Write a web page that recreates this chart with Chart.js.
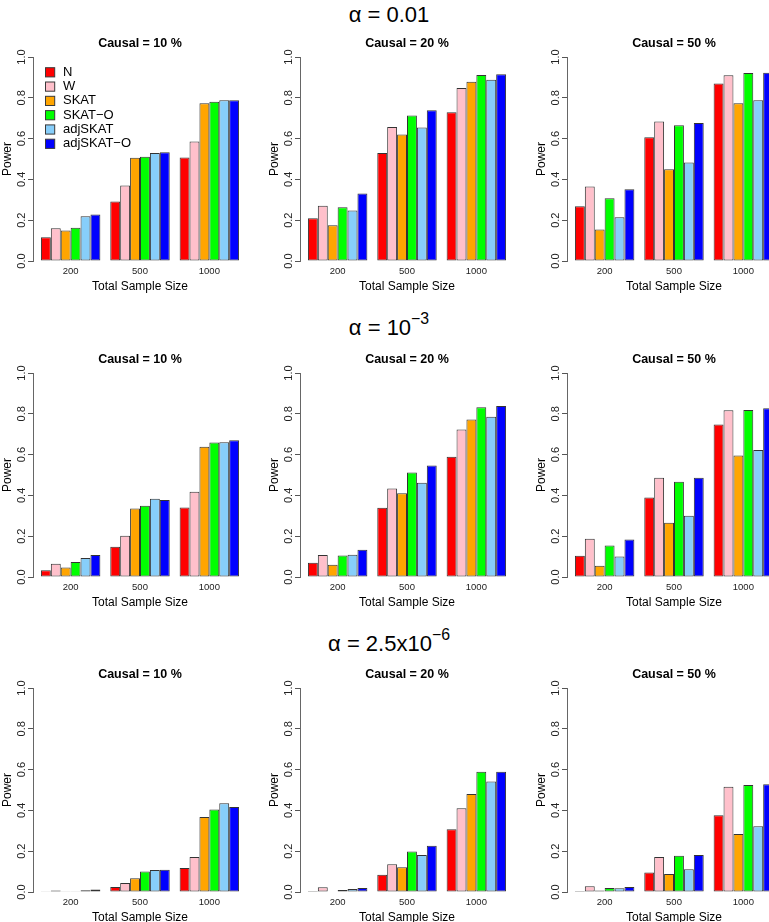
<!DOCTYPE html>
<html>
<head>
<meta charset="utf-8">
<script src="https://cdn.jsdelivr.net/npm/chart.js@4.4.1/dist/chart.umd.min.js"></script>
<style>
  html, body { margin: 0; padding: 0; background: #fff; overflow: hidden; width: 769px; height: 922px; }
  body { position: relative; }
  canvas { position: absolute; }
  .alpha { position: absolute; left: 0; width: 778px; text-align: center; font-family: "Liberation Sans", Arial, sans-serif;
           font-size: 22px; line-height: 20px; color: #000; white-space: nowrap; }
  .alpha sup { font-size: 72%; line-height: 0; position: relative; top: -0.2em; }
</style>
</head>
<body>

<script>
// methods and colours, same order as the bars in each group
const methods = ['N', 'W', 'SKAT', 'SKAT\u2212O', 'adjSKAT', 'adjSKAT\u2212O']
const colors = ['#ff0000', '#ffc0cb', '#ffa500', '#00ff00', '#87cefa', '#0000ff']
const sizes = ['200', '500', '1000']
const causal = ['10', '20', '50']
const alphaTitles = ['\u03b1 = 0.01', '\u03b1 = 10<sup>\u22123</sup>', '\u03b1 = 2.5x10<sup>\u22126</sup>']

// power values, one row per method, columns are the sample sizes 200 / 500 / 1000
// alpha = 0.01
const a1_c10 = [[0.116, 0.292, 0.507], [0.160, 0.370, 0.586], [0.150, 0.506, 0.773], [0.163, 0.511, 0.781], [0.219, 0.530, 0.788], [0.228, 0.533, 0.788]]
const a1_c20 = [[0.209, 0.529, 0.729], [0.271, 0.657, 0.848], [0.175, 0.620, 0.879], [0.264, 0.713, 0.912], [0.248, 0.654, 0.889], [0.331, 0.739, 0.915]]
const a1_c50 = [[0.268, 0.607, 0.870], [0.365, 0.684, 0.910], [0.155, 0.450, 0.773], [0.307, 0.666, 0.922], [0.214, 0.483, 0.788], [0.352, 0.677, 0.923]]
// alpha = 1e-3
const a2_c10 = [[0.033, 0.148, 0.341], [0.065, 0.202, 0.418], [0.047, 0.336, 0.638], [0.073, 0.349, 0.659], [0.093, 0.383, 0.661], [0.108, 0.378, 0.670]]
const a2_c20 = [[0.070, 0.339, 0.589], [0.108, 0.434, 0.723], [0.060, 0.411, 0.772], [0.106, 0.512, 0.832], [0.109, 0.462, 0.785], [0.134, 0.547, 0.838]]
const a2_c50 = [[0.104, 0.390, 0.747], [0.188, 0.486, 0.817], [0.055, 0.266, 0.595], [0.155, 0.467, 0.819], [0.100, 0.300, 0.623], [0.184, 0.486, 0.827]]
// alpha = 2.5e-6
const a3_c10 = [[0.001, 0.025, 0.118], [0.007, 0.044, 0.172], [0.001, 0.067, 0.368], [0.004, 0.100, 0.405], [0.008, 0.108, 0.435], [0.012, 0.109, 0.417]]
const a3_c20 = [[0.005, 0.085, 0.307], [0.023, 0.136, 0.410], [0.003, 0.121, 0.480], [0.010, 0.199, 0.590], [0.015, 0.181, 0.542], [0.020, 0.227, 0.590]]
const a3_c50 = [[0.005, 0.095, 0.376], [0.028, 0.172, 0.516], [0.007, 0.088, 0.284], [0.020, 0.178, 0.524], [0.018, 0.111, 0.322], [0.025, 0.181, 0.528]]

const panels = [[a1_c10, a1_c20, a1_c50], [a2_c10, a2_c20, a2_c50], [a3_c10, a3_c20, a3_c50]]

// layout of the 3x3 grid (left edge of plot region, top of plot region)
const plotLefts = [33, 300, 567]
const plotTops = [57, 373, 688]
const titleTops = [5, 318, 634]
const PLOT_W = 210, PLOT_H = 204
const FONT = '"Liberation Sans", Arial, sans-serif'

// barplot style x positions: groups of 6 unit bars with one unit gap
function groupCenter(j){
    return 4 + 7 * j
}

// rotated y tick labels like R's axis()
const yTickLabels = {
    id: 'yTickLabels',
    afterDraw(chart){
        let sc = chart.scales.y
        let ctx = chart.ctx
        ctx.save()
        ctx.font = '11px ' + FONT
        ctx.fillStyle = '#222'
        ctx.textAlign = 'center'
        ctx.textBaseline = 'middle'
        sc.ticks.forEach(t => {
            ctx.save()
            ctx.translate(chart.chartArea.left - 11, sc.getPixelForValue(t.value))
            ctx.rotate(-Math.PI / 2)
            ctx.fillText(t.value.toFixed(1), 0, 0)
            ctx.restore()
        })
        ctx.restore()
    }
}

// legend inside the first panel
const boxLegend = {
    id: 'boxLegend',
    afterDraw(chart, args, opts){
        if (!opts.show) return
        let ctx = chart.ctx
        let left = chart.chartArea.left, top = chart.chartArea.top
        ctx.save()
        ctx.font = '13px ' + FONT
        ctx.textBaseline = 'middle'
        ctx.textAlign = 'left'
        chart.data.datasets.forEach((ds, i) => {
            let y = top + 15.3 + i * 14.3
            ctx.fillStyle = ds.backgroundColor
            ctx.fillRect(left + 12.5, y - 4.6, 9.2, 9.2)
            ctx.strokeStyle = '#3a3a3a'
            ctx.lineWidth = 1
            ctx.strokeRect(left + 12.5, y - 4.6, 9.2, 9.2)
            ctx.fillStyle = '#000'
            ctx.fillText(ds.label, left + 30, y)
        })
        ctx.restore()
    }
}

function renderPanel(r, c){
    let vals = panels[r][c]
    let canvas = document.createElement('canvas')
    canvas.width = 40 + PLOT_W + 4
    canvas.height = 30 + PLOT_H + 36
    canvas.style.left = (plotLefts[c] - 40) + 'px'
    canvas.style.top = (plotTops[r] - 30) + 'px'
    canvas.style.width = canvas.width + 'px'
    canvas.style.height = canvas.height + 'px'
    document.body.appendChild(canvas)

    let datasets = methods.map((m, i) => ({
        label: m,
        data: vals[i].map((v, j) => ({x: groupCenter(j), y: v})),
        backgroundColor: colors[i],
        borderColor: '#333',
        borderWidth: 1,
        borderSkipped: false,
        categoryPercentage: 6 / 7,
        barPercentage: 1
    }))

    new Chart(canvas, {
        type: 'bar',
        data: {datasets: datasets},
        options: {
            responsive: false,
            animation: false,
            devicePixelRatio: 1,
            layout: {padding: 0},
            plugins: {
                legend: {display: false},
                tooltip: {enabled: false},
                title: {
                    display: true,
                    fullSize: false,
                    text: 'Causal = ' + causal[c] + ' %',
                    color: '#000',
                    font: {family: FONT, size: 12.5, weight: 'bold'},
                    padding: {top: 9, bottom: 6}
                },
                boxLegend: {show: r == 0 && c == 0}
            },
            scales: {
                x: {
                    type: 'linear',
                    min: 0.2,
                    max: 21.8,
                    offset: false,
                    grid: {display: false, drawTicks: false},
                    border: {display: false},
                    afterBuildTicks: s => { s.ticks = sizes.map((_, j) => ({value: groupCenter(j)})) },
                    ticks: {
                        callback: (v, i) => sizes[i],
                        autoSkip: false,
                        maxRotation: 0,
                        color: '#222',
                        font: {family: FONT, size: 9.5},
                        padding: 4.5
                    },
                    title: {
                        display: true,
                        text: 'Total Sample Size',
                        color: '#000',
                        font: {family: FONT, size: 12},
                        padding: {top: 0, bottom: 3}
                    },
                    afterFit: s => { s.height = 36 }
                },
                y: {
                    min: 0,
                    max: 1,
                    ticks: {display: false, stepSize: 0.2},
                    grid: {display: true, drawOnChartArea: false, drawTicks: true, tickLength: 5, color: '#555'},
                    border: {display: true, color: '#666'},
                    title: {
                        display: true,
                        text: 'Power',
                        color: '#000',
                        font: {family: FONT, size: 12},
                        padding: {top: 7, bottom: 0}
                    },
                    afterFit: s => { s.width = 40 }
                }
            }
        },
        plugins: [yTickLabels, boxLegend]
    })
}

for (let r = 0; r < 3; r++){
    let t = document.createElement('div')
    t.className = 'alpha'
    t.style.top = titleTops[r] + 'px'
    t.innerHTML = alphaTitles[r]
    document.body.appendChild(t)
    for (let c = 0; c < 3; c++){
        renderPanel(r, c)
    }
}
</script>
</body>
</html>
